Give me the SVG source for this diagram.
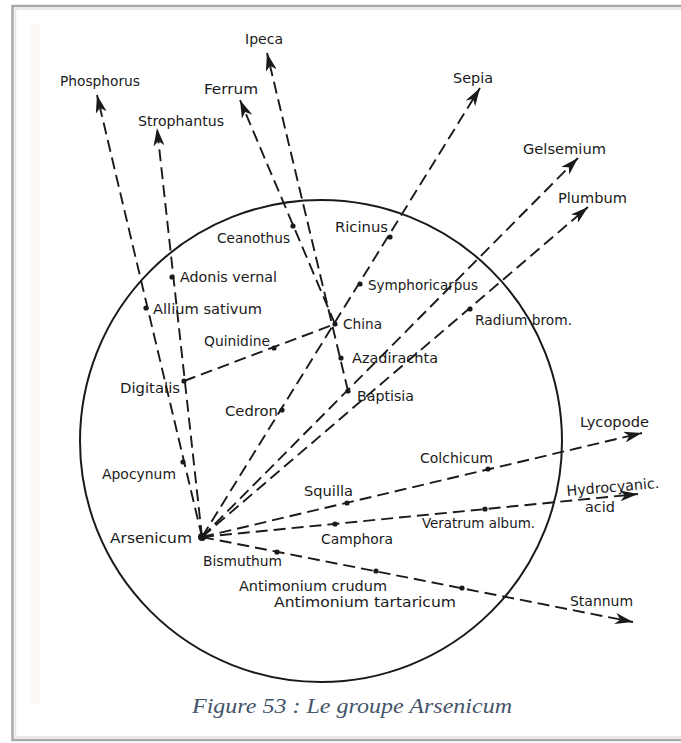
<svg xmlns="http://www.w3.org/2000/svg" width="681" height="743" viewBox="0 0 681 743">
<defs>
<style>
.lbl{font-family:"DejaVu Sans Condensed","DejaVu Sans",sans-serif;font-size:14.5px;fill:#1a1a1a;}
.cap{font-family:"Liberation Serif","Times New Roman",serif;font-style:italic;font-size:22px;fill:#44546A;}
.dash{fill:none;stroke:#1a1a1a;stroke-width:1.9;stroke-dasharray:12 6;}
.dot{fill:#1a1a1a;}
</style>
<marker id="arr" viewBox="0 0 18 11" refX="18" refY="5.5" markerWidth="18" markerHeight="11" markerUnits="userSpaceOnUse" orient="auto">
<path d="M0,0 L18,5.5 L0,11 L5,5.5 Z" fill="#1a1a1a"/>
</marker>
</defs>
<rect width="681" height="743" fill="#ffffff"/>
<rect x="12.5" y="6" width="672" height="734" fill="none" stroke="#a8a8a8" stroke-width="2.5"/>
<rect x="15.5" y="9" width="668" height="728" fill="none" stroke="#e2e2e2" stroke-width="1.5"/>
<rect x="30" y="24" width="10" height="680" fill="#fdf9f7"/>
<circle cx="321" cy="441" r="241" fill="none" stroke="#1a1a1a" stroke-width="2"/>
<g id="connectors">
<path class="dash" d="M202,537 L97,95" marker-end="url(#arr)"/>
<path class="dash" d="M202,537 L157,128" marker-end="url(#arr)"/>
<path class="dash" d="M202,537 L480,88" marker-end="url(#arr)"/>
<path class="dash" d="M202,537 L578,158" marker-end="url(#arr)"/>
<path class="dash" d="M202,537 L588,207" marker-end="url(#arr)"/>
<path class="dash" d="M202,537 L642,433" marker-end="url(#arr)"/>
<path class="dash" d="M202,537 L638,494" marker-end="url(#arr)"/>
<path class="dash" d="M202,537 L633,622" marker-end="url(#arr)"/>
<path class="dash" d="M335,324 L240,100" marker-end="url(#arr)"/>
<path class="dash" d="M348,391 L267,53" marker-end="url(#arr)"/>
<path class="dash" d="M184,381 L335,324"/>
</g>
<g id="phosphorus"><text class="lbl" x="60" y="86" textLength="80" lengthAdjust="spacingAndGlyphs">Phosphorus</text></g>
<g id="ipeca"><text class="lbl" x="245" y="44" textLength="38" lengthAdjust="spacingAndGlyphs">Ipeca</text></g>
<g id="ferrum"><text class="lbl" x="204" y="94" textLength="54" lengthAdjust="spacingAndGlyphs">Ferrum</text></g>
<g id="strophantus"><text class="lbl" x="138" y="126" textLength="86" lengthAdjust="spacingAndGlyphs">Strophantus</text></g>
<g id="sepia"><text class="lbl" x="453" y="83" textLength="40" lengthAdjust="spacingAndGlyphs">Sepia</text></g>
<g id="gelsemium"><text class="lbl" x="523" y="154" textLength="83" lengthAdjust="spacingAndGlyphs">Gelsemium</text></g>
<g id="plumbum"><text class="lbl" x="558" y="203" textLength="69" lengthAdjust="spacingAndGlyphs">Plumbum</text></g>
<g id="ceanothus"><circle class="dot" cx="293" cy="226" r="2.6"/><text class="lbl" x="217" y="243" textLength="73" lengthAdjust="spacingAndGlyphs">Ceanothus</text></g>
<g id="ricinus"><circle class="dot" cx="390" cy="237" r="2.6"/><text class="lbl" x="335" y="232" textLength="53" lengthAdjust="spacingAndGlyphs">Ricinus</text></g>
<g id="adonis"><circle class="dot" cx="172" cy="277" r="2.6"/><text class="lbl" x="180" y="282" textLength="97" lengthAdjust="spacingAndGlyphs">Adonis vernal</text></g>
<g id="allium"><circle class="dot" cx="146" cy="308" r="2.6"/><text class="lbl" x="153" y="314" textLength="109" lengthAdjust="spacingAndGlyphs">Allium sativum</text></g>
<g id="symphoricarpus"><circle class="dot" cx="360" cy="284" r="2.6"/><text class="lbl" x="368" y="290" textLength="110" lengthAdjust="spacingAndGlyphs">Symphoricarpus</text></g>
<g id="china"><circle class="dot" cx="335" cy="324" r="2.6"/><text class="lbl" x="343" y="329" textLength="39" lengthAdjust="spacingAndGlyphs">China</text></g>
<g id="quinidine"><circle class="dot" cx="274" cy="348" r="2.6"/><text class="lbl" x="204" y="346" textLength="66" lengthAdjust="spacingAndGlyphs">Quinidine</text></g>
<g id="radium"><circle class="dot" cx="470" cy="309" r="2.6"/><text class="lbl" x="475" y="325" textLength="97" lengthAdjust="spacingAndGlyphs">Radium brom.</text></g>
<g id="azadirachta"><circle class="dot" cx="341" cy="358" r="2.6"/><text class="lbl" x="352" y="363" textLength="86" lengthAdjust="spacingAndGlyphs">Azadirachta</text></g>
<g id="digitalis"><circle class="dot" cx="184" cy="381" r="2.6"/><text class="lbl" x="120" y="393" textLength="60" lengthAdjust="spacingAndGlyphs">Digitalis</text></g>
<g id="baptisia"><circle class="dot" cx="348" cy="391" r="2.6"/><text class="lbl" x="357" y="401" textLength="57" lengthAdjust="spacingAndGlyphs">Baptisia</text></g>
<g id="cedron"><circle class="dot" cx="282" cy="410" r="2.6"/><text class="lbl" x="225" y="416" textLength="53" lengthAdjust="spacingAndGlyphs">Cedron</text></g>
<g id="lycopode"><text class="lbl" x="580" y="427" textLength="69" lengthAdjust="spacingAndGlyphs">Lycopode</text></g>
<g id="apocynum"><circle class="dot" cx="183" cy="462" r="2.6"/><text class="lbl" x="102" y="479" textLength="74" lengthAdjust="spacingAndGlyphs">Apocynum</text></g>
<g id="colchicum"><circle class="dot" cx="488" cy="469" r="2.6"/><text class="lbl" x="420" y="463" textLength="73" lengthAdjust="spacingAndGlyphs">Colchicum</text></g>
<g id="squilla"><circle class="dot" cx="347" cy="503" r="2.6"/><text class="lbl" x="304" y="496" textLength="49" lengthAdjust="spacingAndGlyphs">Squilla</text></g>
<g id="hydrocyanic"><text class="lbl" x="567" y="496" textLength="93" lengthAdjust="spacingAndGlyphs" transform="rotate(-5 567 496)">Hydrocyanic.</text><text class="lbl" x="585" y="512" textLength="30" lengthAdjust="spacingAndGlyphs">acid</text></g>
<g id="arsenicum"><circle class="dot" cx="202" cy="537" r="4"/><text class="lbl" x="110" y="543" textLength="82" lengthAdjust="spacingAndGlyphs">Arsenicum</text></g>
<g id="camphora"><circle class="dot" cx="335" cy="524" r="2.6"/><text class="lbl" x="321" y="544" textLength="72" lengthAdjust="spacingAndGlyphs">Camphora</text></g>
<g id="veratrum"><circle class="dot" cx="485" cy="509" r="2.6"/><text class="lbl" x="422" y="528" textLength="113" lengthAdjust="spacingAndGlyphs">Veratrum album.</text></g>
<g id="bismuthum"><circle class="dot" cx="277" cy="552" r="2.6"/><text class="lbl" x="203" y="566" textLength="79" lengthAdjust="spacingAndGlyphs">Bismuthum</text></g>
<g id="antimonium-crudum"><circle class="dot" cx="376" cy="571" r="2.6"/><text class="lbl" x="239" y="591" textLength="148" lengthAdjust="spacingAndGlyphs">Antimonium crudum</text></g>
<g id="antimonium-tartaricum"><circle class="dot" cx="462" cy="588" r="2.6"/><text class="lbl" x="274" y="607" textLength="182" lengthAdjust="spacingAndGlyphs">Antimonium tartaricum</text></g>
<g id="stannum"><text class="lbl" x="570" y="606" textLength="63" lengthAdjust="spacingAndGlyphs">Stannum</text></g>
<text class="cap" x="192" y="713" textLength="320" lengthAdjust="spacingAndGlyphs">Figure 53 : Le groupe Arsenicum</text>
</svg>
